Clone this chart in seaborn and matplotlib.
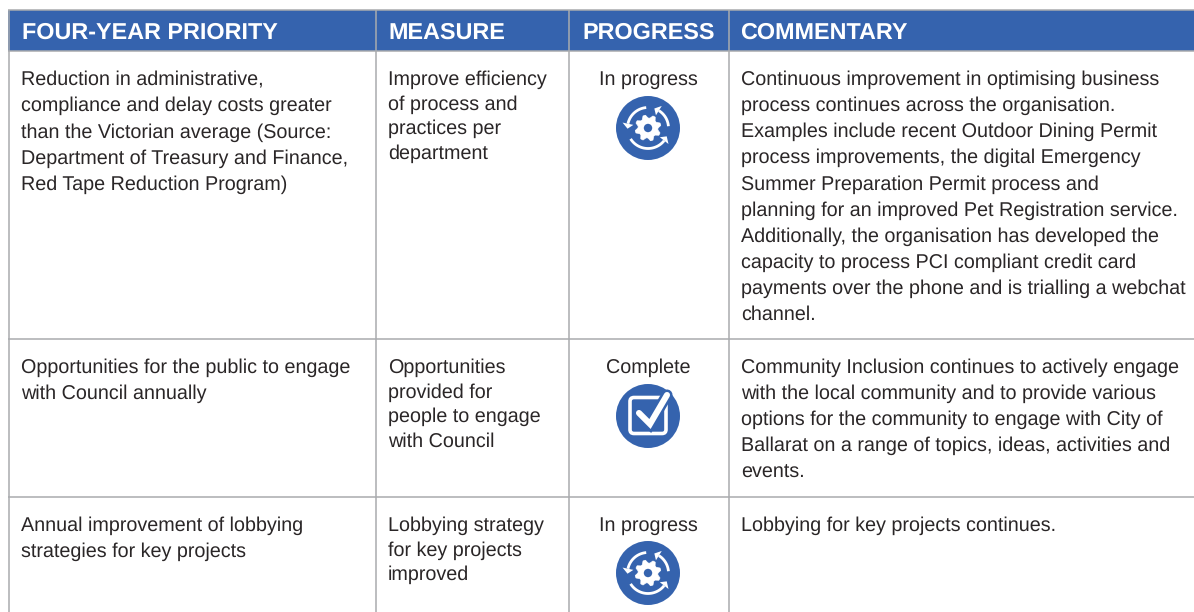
import numpy as np
import matplotlib
matplotlib.use("Agg")
import matplotlib.pyplot as plt
from matplotlib.patches import Circle, Rectangle, FancyBboxPatch, Polygon
import seaborn as sns

sns.set_theme(style="white")
plt.rcParams['font.family'] = ['Liberation Sans', 'DejaVu Sans']
plt.rcParams['text.hinting'] = 'none'

headers = ["FOUR-YEAR PRIORITY", "MEASURE", "PROGRESS", "COMMENTARY"]
priority = [
    ["Reduction in administrative,", "compliance and delay costs greater", "than the Victorian average (Source:",
     "Department of Treasury and Finance,", "Red Tape Reduction Program)"],
    ["Opportunities for the public to engage", "with Council annually"],
    ["Annual improvement of lobbying", "strategies for key projects"],
]
measure = [
    ["Improve efficiency", "of process and", "practices per", "department"],
    ["Opportunities", "provided for", "people to engage", "with Council"],
    ["Lobbying strategy", "for key projects", "improved"],
]
progress = ["In progress", "Complete", "In progress"]
commentary = [
    ["Continuous improvement in optimising business", "process continues across the organisation.",
     "Examples include recent Outdoor Dining Permit", "process improvements, the digital Emergency",
     "Summer Preparation Permit process and", "planning for an improved Pet Registration service.",
     "Additionally, the organisation has developed the", "capacity to process PCI compliant credit card",
     "payments over the phone and is trialling a webchat", "channel."],
    ["Community Inclusion continues to actively engage", "with the local community and to provide various",
     "options for the community to engage with City of", "Ballarat on a range of topics, ideas, activities and",
     "events."],
    ["Lobbying for key projects continues."],
]

BLUE = "#3563AE"
GREY = "#A9ABAE"
INK = "#2A2627"
W, H = 1194, 612
FS = 14.2

fig = plt.figure(figsize=(W / 100, H / 100), dpi=100, facecolor="white")
ax = fig.add_axes([0, 0, 1, 1])
ax.set_xlim(0, W)
ax.set_ylim(H, 0)
ax.axis("off")
sns.despine(ax=ax, left=True, bottom=True)

col_x = [8.5, 375.5, 568.5, 728.5]
text_x = [21, 388, 648, 741]
head_top, head_bot = 10, 51
row_y = [339, 497]
row_base = [85, 373, 531]

ax.add_patch(Rectangle((8, head_top), W - 8, head_bot - head_top, fc=BLUE, ec="none", zorder=1))
for yy in (head_top, head_bot):
    ax.plot([8, W], [yy, yy], color=GREY, lw=1.1, zorder=2, solid_capstyle="butt")
for xx in col_x:
    ax.plot([xx, xx], [head_top, H], color=GREY, lw=1.1, zorder=2, solid_capstyle="butt")
for yy in row_y:
    ax.plot([8, W], [yy, yy], color=GREY, lw=1.1, zorder=2, solid_capstyle="butt")

for h, x in zip(headers, [21.5, 388, 648.5, 740]):
    ax.text(x, 38.5, h, color="white", fontsize=16.8, fontweight="bold", va="baseline",
            ha="center" if h == "PROGRESS" else "left", zorder=3)


def block(lines, x, y0, step, ha="left"):
    for i, s in enumerate(lines):
        ax.text(x, y0 + i * step, s, color=INK, fontsize=FS, va="baseline", ha=ha, zorder=3)


def arc(cx, cy, r, a0, a1, n=40):
    t = np.radians(np.linspace(a0, a1, n))
    return cx + r * np.cos(t), cy - r * np.sin(t)


def cycle_icon(cx, cy):
    ax.add_patch(Circle((cx, cy), 32, fc=BLUE, ec="none", zorder=3))
    ang = np.radians(np.arange(0, 360, 360 / 32) + 11.25)
    rad = np.tile([10.0, 13.0, 13.0, 10.0], 8)
    ax.add_patch(Polygon(np.c_[cx + rad * np.cos(ang), cy + rad * np.sin(ang)],
                         fc="white", ec="white", lw=0.5, zorder=4))
    ax.add_patch(Circle((cx, cy), 4.2, fc=BLUE, ec="none", zorder=5))
    for a0, a1 in ((95, 168), (5, 58), (212, 322)):
        x, y = arc(cx, cy, 20.5, a0, a1)
        ax.plot(x, y, color="white", lw=2.0, zorder=4, solid_capstyle="butt")
        tip = np.radians(a1 + 14)
        base = np.radians(a1)
        px, py = cx + 20.5 * np.cos(base), cy - 20.5 * np.sin(base)
        tx, ty = cx + 20.5 * np.cos(tip), cy - 20.5 * np.sin(tip)
        nx, ny = np.cos(base), -np.sin(base)
        ax.add_patch(Polygon([(tx, ty), (px + 5.5 * nx, py + 5.5 * ny), (px - 5.5 * nx, py - 5.5 * ny)],
                             fc="white", ec="none", zorder=4))


def check_icon(cx, cy):
    ax.add_patch(Circle((cx, cy), 32, fc=BLUE, ec="none", zorder=3))
    ax.add_patch(FancyBboxPatch((cx - 18, cy - 18.5), 36, 36, boxstyle="round,pad=0,rounding_size=4",
                                fc="none", ec="white", lw=2.6, zorder=4))
    xs, ys = [cx - 9, cx + 2, cx + 19], [cy - 3, cy + 8, cy - 21]
    ax.plot(xs, ys, color=BLUE, lw=8.0, zorder=5, solid_capstyle="round", solid_joinstyle="miter")
    ax.plot(xs, ys, color="white", lw=4.4, zorder=6, solid_capstyle="round", solid_joinstyle="miter")


icon_y = [128, 416, 573]
for i in range(3):
    block(priority[i], text_x[0], row_base[i], 26.2)
    block(measure[i], text_x[1], row_base[i], 24.6)
    block([progress[i]], text_x[2], row_base[i], 0, ha="center")
    block(commentary[i], text_x[3], row_base[i], 26.1)
    (check_icon if progress[i] == "Complete" else cycle_icon)(648, icon_y[i])

fig.savefig("out.png", dpi=100, facecolor="white")
